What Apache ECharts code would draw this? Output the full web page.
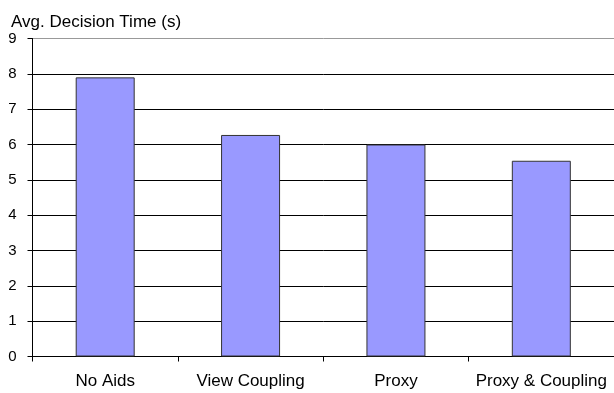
<!DOCTYPE html>
<html>
<head>
<meta charset="utf-8">
<script src="https://cdn.jsdelivr.net/npm/echarts@6/dist/echarts.min.js"></script>
<style>
  html, body { margin: 0; padding: 0; background: #fff; }
  #chart { width: 614px; height: 393px; }
</style>
</head>
<body>
<div id="chart"></div>
<script>
// Average decision time per condition
const categories = ['No Aids', 'View Coupling', 'Proxy', 'Proxy & Coupling'];
const decisionTimes = [7.9, 6.27, 6.0, 5.54];
const yTicks = [0, 1, 2, 3, 4, 5, 6, 7, 8, 9];
const axisTitle = 'Avg. Decision Time (s)';

const font = 'Liberation Sans, Arial, sans-serif';
const gridColors = yTicks.map((v, i) => (i === yTicks.length - 1 ? '#999' : '#000'));

const chart = echarts.init(document.getElementById('chart'), null, { renderer: 'canvas' });
chart.setOption({
  animation: false,
  backgroundColor: '#fff',
  textStyle: { fontFamily: font },
  grid: { left: 32.5, top: 38.5, bottom: 36.5, width: 587 },
  title: {
    text: axisTitle,
    left: 6, top: 9,
    textStyle: { fontFamily: font, fontSize: 17, fontWeight: 'normal', color: '#000' }
  },
  xAxis: {
    type: 'category',
    data: categories,
    axisLine: { lineStyle: { color: '#000', width: 1 } },
    axisTick: { show: true, interval: 0, length: 5, lineStyle: { color: '#000' } },
    axisLabel: { interval: 0, hideOverlap: false, color: '#000', fontSize: 17, fontFamily: font, margin: 16 },
    splitLine: { show: false }
  },
  yAxis: {
    type: 'value',
    min: yTicks[0],
    max: yTicks[yTicks.length - 1],
    interval: 1,
    axisLine: { show: true, lineStyle: { color: '#000', width: 1 } },
    axisTick: { show: true, length: 5, lineStyle: { color: '#000' } },
    axisLabel: { color: '#000', fontSize: 15, fontFamily: font, margin: 16 },
    splitLine: { show: true, lineStyle: { color: gridColors, width: 1 } }
  },
  series: [{
    type: 'bar',
    data: decisionTimes,
    barWidth: 59,
    itemStyle: { color: '#9999FF', borderColor: '#333', borderWidth: 1 }
  }]
});
</script>
</body>
</html>
